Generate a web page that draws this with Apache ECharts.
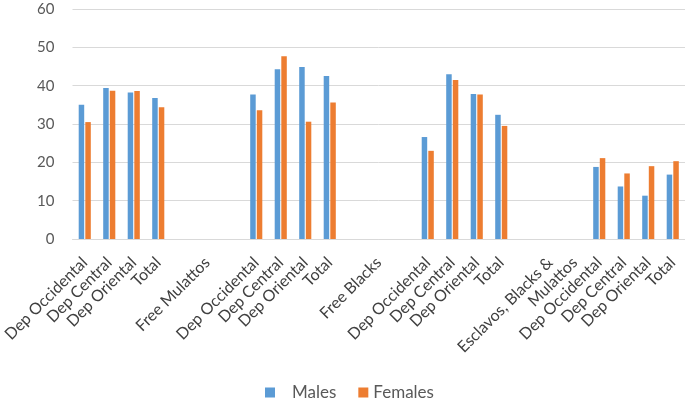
<!DOCTYPE html>
<html>
<head>
<meta charset="utf-8">
<script src="https://cdn.jsdelivr.net/npm/echarts@6/dist/echarts.min.js"></script>
<style>
  html, body { margin: 0; padding: 0; background: #fff; }
  #chart { width: 685px; height: 404px; }
</style>
</head>
<body>
<div id="chart"></div>
<script>
// categories (blank entries are the empty slots around the group titles;
// the long last title wraps onto the slot after it, as in the original)
const categories = [
  'Dep Occidental', 'Dep Central', 'Dep Oriental', 'Total',
  '', 'Free Mulattos', '',
  'Dep Occidental', 'Dep Central', 'Dep Oriental', 'Total',
  '', 'Free Blacks', '',
  'Dep Occidental', 'Dep Central', 'Dep Oriental', 'Total',
  '', 'Esclavos, Blacks &', 'Mulattos',
  'Dep Occidental', 'Dep Central', 'Dep Oriental', 'Total'
];
const males = [
  35.0, 39.4, 38.2, 36.8,
  null, null, null,
  37.7, 44.3, 44.9, 42.5,
  null, null, null,
  26.6, 43.0, 37.8, 32.4,
  null, null, null,
  18.8, 13.7, 11.3, 16.8
];
const females = [
  30.5, 38.7, 38.6, 34.4,
  null, null, null,
  33.6, 47.7, 30.6, 35.6,
  null, null, null,
  23.0, 41.5, 37.7, 29.5,
  null, null, null,
  21.1, 17.1, 19.0, 20.3
];
const yTicks = { min: 0, max: 60, interval: 10 };

const font = 'Lato, "Open Sans", sans-serif';
const myChart = echarts.init(document.getElementById('chart'));
myChart.setOption({
  animation: false,
  textStyle: { fontFamily: font },
  grid: { left: 70, right: 0, top: 9, bottom: 165, containLabel: false },
  legend: {
    data: [
      { name: 'Males', textStyle: { padding: [0, 0, 0, 12] } },
      { name: 'Females' }
    ],
    top: 384,
    left: 265,
    padding: 0,
    icon: 'rect',
    itemWidth: 10,
    itemHeight: 10,
    itemGap: 22,
    textStyle: { fontSize: 17, color: '#595959' }
  },
  xAxis: {
    type: 'category',
    data: categories,
    axisTick: { show: false },
    axisLine: { lineStyle: { color: '#d9d9d9', width: 1 } },
    axisLabel: {
      interval: 0,
      rotate: 45,
      margin: 21,
      fontSize: 16,
      color: '#404040',
      fontFamily: font
    }
  },
  yAxis: {
    type: 'value',
    min: yTicks.min,
    max: yTicks.max,
    interval: yTicks.interval,
    axisLine: { show: false },
    axisTick: { show: false },
    splitLine: { lineStyle: { color: '#d9d9d9', width: 1 } },
    axisLabel: { fontSize: 15, color: '#595959', margin: 18, fontFamily: font }
  },
  series: [
    {
      name: 'Males',
      type: 'bar',
      data: males,
      barWidth: 5.5,
      barGap: '20%',
      itemStyle: { color: '#5b9bd5' }
    },
    {
      name: 'Females',
      type: 'bar',
      data: females,
      barWidth: 5.5,
      itemStyle: { color: '#ed7d31' }
    }
  ]
});
</script>
</body>
</html>
